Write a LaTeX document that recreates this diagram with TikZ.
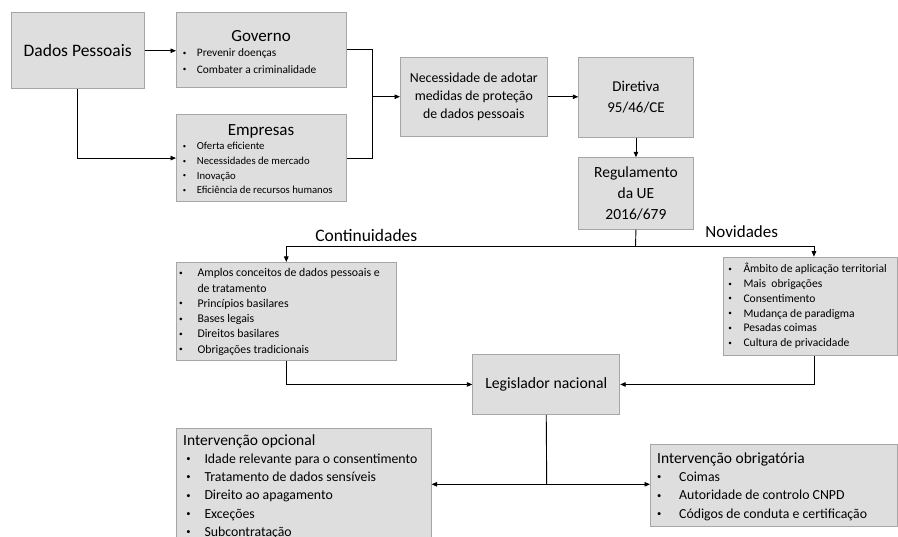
\documentclass[tikz,border=0pt]{standalone}
\usepackage{fontspec}
\usepackage{graphicx}
\setmainfont{Carlito}
\usetikzlibrary{arrows.meta}
\definecolor{boxfill}{HTML}{DEDEDE}
\definecolor{boxline}{HTML}{A6A6A6}
% small bullet set in a box of fixed width, so that the item text starts at a fixed indent
\newcommand{\bul}[1]{\makebox[#1][l]{\hspace{0.1em}\raisebox{0.13em}{\scalebox{0.62}{\textbullet}}}}
\newcommand{\fs}[2]{\fontsize{#1}{#2}\selectfont}
\begin{document}
\begin{tikzpicture}[x=1pt,y=-1pt,
  box/.style={draw=boxline, fill=boxfill, line width=0.9pt, inner sep=0pt,
              anchor=north west, align=center},
  conn/.style={line width=0.9pt, black},
  arr/.style={conn, -{Triangle[length=5.5pt,width=4.5pt]}},
  lst/.style={anchor=base west, inner sep=0pt},
  ttl/.style={inner sep=0pt}
]
\useasboundingbox (0,0) rectangle (898,537);
\clip (0,0) rectangle (898,537);

% boxes
\node[box, minimum width=133pt, minimum height=76pt, font=\fs{17.5}{21}] (dados) at (10.7,12.3) {Dados Pessoais};
\node[box, minimum width=170pt, minimum height=75.6pt] (gov) at (176,11.7) {};
\node[box, minimum width=170pt, minimum height=86.7pt] (emp) at (176,114.3) {};
\node[box, minimum width=146.7pt, minimum height=79.3pt, font=\fs{13.8}{18.3}] (nec) at (400,56.7)
  {Necessidade de adotar\\medidas de proteção\\de dados pessoais};
\node[box, minimum width=114.4pt, minimum height=79.4pt, font=\fs{15}{21}] (dir) at (578.3,57.3)
  {Diretiva\\95/46/CE};
\node[box, minimum width=114.4pt, minimum height=71.4pt, font=\fs{15.5}{21.5}] (reg) at (578.3,157.3)
  {Regulamento\\da UE\\2016/679};
\node[box, minimum width=220.3pt, minimum height=98pt] (cont) at (175.7,262) {};
\node[box, minimum width=174pt, minimum height=98.3pt] (nov) at (723,256.7) {};
\node[box, minimum width=147pt, minimum height=60pt, font=\fs{15.7}{19}] (leg) at (472.3,354) {Legislador nacional};
\node[box, minimum width=255pt, minimum height=130pt] (opc) at (175.7,428.3) {};
\node[box, minimum width=247pt, minimum height=81.7pt] (obr) at (650,444) {};

% box contents
\node[ttl, font=\fs{17}{20}] at (261,36) {Governo};
\node[lst, font=\fs{11.4}{16.7}] at (181.6,56.6) {\begin{tabular}[t]{@{}l@{}}
  \bul{15.1pt}Prevenir doenças\\
  \bul{15.1pt}Combater a criminalidade\end{tabular}};

\node[ttl, font=\fs{17}{20}] at (261,131) {Empresas};
\node[lst, font=\fs{10.7}{14.7}] at (181.6,149.9) {\begin{tabular}[t]{@{}l@{}}
  \bul{15.1pt}Oferta eficiente\\
  \bul{15.1pt}Necessidades de mercado\\
  \bul{15.1pt}Inovação\\
  \bul{15.1pt}Eficiência de recursos humanos\end{tabular}};

\node[lst, font=\fs{11.8}{15.3}] at (177.8,276.8) {\begin{tabular}[t]{@{}l@{}}
  \bul{19.5pt}Amplos conceitos de dados pessoais e\\
  \hspace*{19.5pt}de tratamento\\
  \bul{19.5pt}Princípios basilares\\
  \bul{19.5pt}Bases legais\\
  \bul{19.5pt}Direitos basilares\\
  \bul{19.5pt}Obrigações tradicionais\end{tabular}};

\node[lst, font=\fs{11.6}{14.8}] at (727.1,272.8) {\begin{tabular}[t]{@{}l@{}}
  \bul{16.2pt}Âmbito de aplicação territorial\\
  \bul{16.2pt}Mais~ obrigações\\
  \bul{16.2pt}Consentimento\\
  \bul{16.2pt}Mudança de paradigma\\
  \bul{16.2pt}Pesadas coimas\\
  \bul{16.2pt}Cultura de privacidade\end{tabular}};

\node[lst, font=\fs{15.5}{18}] at (183,445.3) {Intervenção opcional};
\node[lst, font=\fs{13.8}{18.4}] at (184.8,463.1) {\begin{tabular}[t]{@{}l@{}}
  \bul{19.5pt}Idade relevante para o consentimento\\
  \bul{19.5pt}Tratamento de dados sensíveis\\
  \bul{19.5pt}Direito ao apagamento\\
  \bul{19.5pt}Exceções\\
  \bul{19.5pt}Subcontratação\end{tabular}};

\node[lst, font=\fs{15.5}{18}] at (657,463.3) {Intervenção obrigatória};
\node[lst, font=\fs{13.8}{18.5}] at (655.5,481.4) {\begin{tabular}[t]{@{}l@{}}
  \bul{23.5pt}Coimas\\
  \bul{23.5pt}Autoridade de controlo CNPD\\
  \bul{23.5pt}Códigos de conduta e certificação\end{tabular}};

% branch labels
\node[ttl, font=\fs{17.5}{20}] (lcont) at (366.3,235) {Continuidades};
\node[ttl, font=\fs{17}{20}] (lnov) at (741.7,231.7) {Novidades};

% junction points
\coordinate (j1) at (372.3,96.7);
\coordinate (j2) at (635.5,246.5);
\coordinate (j3) at (546.7,484.3);

% connectors
\draw[arr] (dados.east) -- (dados.east -| gov.west);
\draw[arr] (dados.south) |- (emp.west);
\draw[conn] (gov.east) -| (j1) |- (emp.east);
\draw[arr] (j1) -- (j1 -| nec.west);
\draw[arr] (nec.east) -- (nec.east -| dir.west);
\draw[arr] (dir.south) -- (reg.north);
\draw[conn] (reg.south) -- (j2);
\draw[arr] (j2) -| (cont.north);
\draw[arr] (j2) -| ([xshift=3.5pt]nov.north);
\draw[arr] (cont.south) |- (leg.west);
\draw[arr] ([xshift=3.5pt]nov.south) |- (leg.east);
\draw[conn] (leg.south) -- (j3);
\draw[arr] (j3) -- (j3 -| opc.east);
\draw[arr] (j3) -- (j3 -| obr.west);
\end{tikzpicture}
\end{document}
